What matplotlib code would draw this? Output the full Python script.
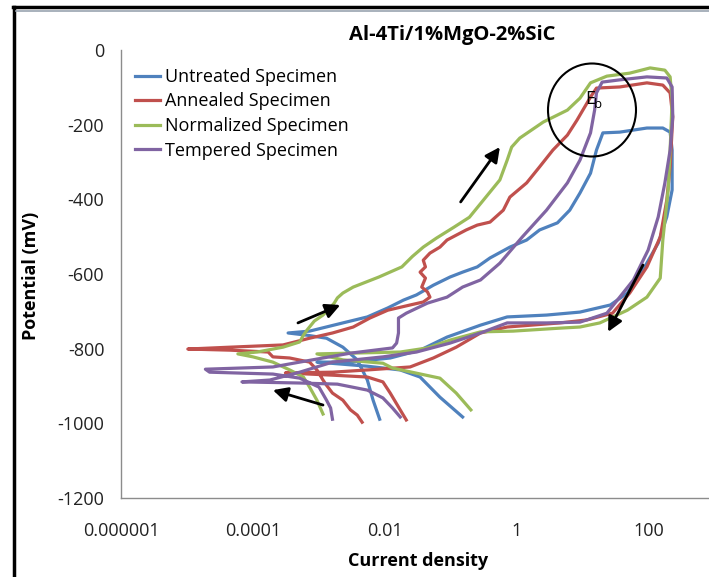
import matplotlib.pyplot as plt
from matplotlib.patches import Ellipse
from matplotlib.lines import Line2D
from matplotlib.ticker import NullLocator

plt.rcParams['font.family'] = ['Open Sans', 'DejaVu Sans']
plt.rcParams['axes.unicode_minus'] = False

# current density (log axis) and potential (mV)
untreated_i = [8.3e-3, 6.6e-3, 5.4e-3, 3.8e-3, 2.3e-3, 1.3e-3, 6.6e-4, 3.4e-4, 7.2e-4, 2.3e-3,
               5.4e-3, 0.011, 0.019, 0.030, 0.054, 0.097, 0.15, 0.25, 0.39, 0.78,
               1.4, 2.2, 4.1, 6.3, 9.0, 13, 16, 20, 36, 93,
               162, 209, 224, 224, 186, 138, 81, 47, 26, 9.0,
               2.8, 0.71, 0.28, 0.087, 0.034, 0.012, 3.0e-3, 9.3e-4, 5.4e-3, 0.017,
               0.034, 0.068, 0.15]
untreated_e = [-989, -938, -884, -830, -796, -772, -764, -758, -753, -731,
               -715, -691, -670, -656, -630, -608, -595, -581, -557, -528,
               -509, -482, -463, -429, -383, -330, -268, -222, -220, -209,
               -209, -220, -268, -375, -447, -517, -589, -651, -683, -702,
               -710, -715, -737, -769, -804, -825, -836, -836, -847, -857,
               -876, -930, -983]

annealed_i = [4.5e-3, 3.8e-3, 3.0e-3, 2.3e-3, 1.6e-3, 1.3e-3, 1.15e-3, 9.3e-4, 7.2e-4, 3.6e-4,
              2.0e-4, 1.7e-4, 4.5e-5, 1.03e-5, 4.5e-5, 2.85e-4, 7.2e-4, 1.6e-3, 3.3e-3, 5.9e-3,
              0.011, 0.024, 0.038, 0.048, 0.044, 0.036, 0.041, 0.034, 0.041, 0.038,
              0.048, 0.068, 0.087, 0.12, 0.17, 0.25, 0.39, 0.62, 0.78, 1.4,
              2.2, 3.5, 5.8, 8.1, 13, 16, 36, 93, 162, 209,
              229, 209, 186, 148, 93, 51, 28, 11.5, 4.5, 0.71,
              0.28, 0.12, 0.054, 0.024, 5.4e-3, 1.6e-3, 3.1e-4, 1.6e-3, 5.4e-3, 9.3e-3,
              0.012, 0.017, 0.021]
annealed_e = [-997, -978, -964, -938, -919, -898, -884, -857, -836, -825,
              -822, -809, -804, -801, -796, -790, -772, -758, -742, -718,
              -697, -683, -675, -662, -648, -635, -611, -595, -581, -563,
              -544, -528, -509, -496, -482, -469, -461, -429, -394, -356,
              -313, -268, -228, -188, -126, -102, -99, -88, -94, -115,
              -179, -313, -402, -501, -581, -651, -705, -723, -731, -742,
              -758, -796, -825, -849, -857, -863, -865, -871, -876, -889,
              -919, -964, -991]

normalized_i = [1.15e-3, 9.3e-4, 7.2e-4, 5.8e-4, 3.6e-4, 2.0e-4, 1.0e-4, 5.9e-5, 1.15e-4, 2.85e-4,
                5.1e-4, 5.8e-4, 6.6e-4, 8.5e-4, 1.15e-3, 1.5e-3, 1.7e-3, 1.9e-3, 2.3e-3, 3.3e-3,
                8.1e-3, 0.018, 0.026, 0.038, 0.060, 0.11, 0.19, 0.31, 0.55, 0.71,
                0.83, 1.1, 2.5, 5.8, 9.0, 13, 23, 51, 104, 174,
                209, 224, 209, 195, 162, 148, 93, 47, 18, 9.0,
                4.5, 0.87, 0.28, 0.097, 0.044, 0.017, 3.0e-3, 9.3e-4, 2.3e-3, 9.3e-3,
                0.013, 0.068, 0.12, 0.20]
normalized_e = [-975, -938, -903, -876, -857, -836, -822, -814, -809, -796,
                -782, -764, -750, -726, -710, -689, -678, -664, -651, -635,
                -608, -581, -553, -528, -504, -475, -448, -402, -348, -295,
                -260, -236, -193, -161, -129, -88, -70, -62, -48, -54,
                -72, -134, -268, -375, -509, -611, -662, -697, -731, -742,
                -745, -753, -755, -777, -798, -809, -812, -814, -830, -839,
                -852, -879, -919, -964]

tempered_i = [1.6e-3, 1.5e-3, 1.3e-3, 1.0e-3, 5.1e-4, 2.0e-4, 2.2e-5, 1.9e-5, 2.0e-4, 5.1e-4,
              3.0e-3, 0.013, 0.015, 0.016, 0.016, 0.021, 0.044, 0.087, 0.15, 0.28,
              0.55, 1.2, 2.8, 5.8, 9.0, 13, 15, 16, 19.5, 36,
              93, 186, 224, 229, 209, 174, 138, 97, 58, 36,
              23, 9.0, 2.8, 0.71, 0.28, 0.097, 0.030, 9.3e-3, 1.6e-3, 5.1e-4,
              1.8e-4, 6.8e-5, 5.1e-4, 1.9e-3, 5.4e-3, 9.3e-3, 0.013, 0.017]
tempered_e = [-989, -959, -938, -903, -879, -868, -863, -855, -849, -836,
              -812, -798, -785, -758, -718, -705, -678, -662, -635, -616,
              -571, -501, -429, -356, -295, -222, -161, -115, -86, -80,
              -72, -75, -99, -179, -268, -356, -447, -536, -616, -662,
              -705, -729, -731, -731, -758, -785, -809, -822, -836, -863,
              -884, -889, -892, -895, -911, -932, -959, -983]

series = [
    ('Untreated Specimen', untreated_i, untreated_e, '#4F81BD'),
    ('Annealed Specimen', annealed_i, annealed_e, '#C0504D'),
    ('Normalized Specimen', normalized_i, normalized_e, '#9BBB59'),
    ('Tempered Specimen', tempered_i, tempered_e, '#8064A2'),
]

x_ticks = [1e-6, 1e-4, 1e-2, 1, 100]
x_labels = ['0.000001', '0.0001', '0.01', '1', '100']

# arrows: (tail, head) in data units
arrows = [
    ((0.14, -407), (0.55, -260)),
    ((4.8e-4, -731), (2.1e-3, -683)),
    ((1.15e-3, -951), (2.0e-4, -911)),
    ((81, -576), (24, -755)),
]

W, H = 709, 577
fig = plt.figure(figsize=(W / 100, H / 100), dpi=100)
ax = fig.add_axes([121 / W, 1 - 498 / H, 660 / W, 448 / H])

for lab, i, e, c in series:
    ax.plot(i, e, color=c, lw=2.3, label=lab, solid_joinstyle='round')

ax.set_xscale('log')
ax.set_xlim(1e-6, 1e4)
ax.set_ylim(-1200, 0)
ax.set_xticks(x_ticks)
ax.set_xticklabels(x_labels)
ax.xaxis.set_minor_locator(NullLocator())
ax.set_yticks(range(-1200, 1, 200))
ax.tick_params(length=0, labelsize=13, colors='#222222')
ax.tick_params(axis='y', pad=12)
ax.tick_params(axis='x', pad=17)
for s in ['top', 'right']:
    ax.spines[s].set_visible(False)
for s in ['left', 'bottom']:
    ax.spines[s].set_color('#8c8c8c')
    ax.spines[s].set_linewidth(1.0)

for tail, head in arrows:
    ax.annotate('', xy=head, xytext=tail,
                arrowprops=dict(arrowstyle='-|>', color='black', lw=2,
                                mutation_scale=22, shrinkA=0, shrinkB=0))

fig.add_artist(Ellipse((592 / W, 1 - 110 / H), 88 / W, 93 / H, transform=fig.transFigure,
                       fill=False, ec='black', lw=1.5))
fig.text(590 / W, 1 - 99 / H, 'E', fontsize=13, ha='center', va='center')
fig.text(598 / W, 1 - 104 / H, 'b', fontsize=9.5, ha='center', va='center')

ax.legend(loc='upper left', bbox_to_anchor=(135 / W, 1 - 68 / H), bbox_transform=fig.transFigure,
          frameon=False, fontsize=13, handlelength=1.4, handletextpad=0.25,
          labelspacing=0.36, borderpad=0, borderaxespad=0)

fig.text(452 / W, 1 - 35 / H, 'Al-4Ti/1%MgO-2%SiC', fontsize=14.5, fontweight='bold',
         ha='center', va='center')
fig.text(31 / W, 1 - 276 / H, 'Potential (mV)', fontsize=13, fontweight='bold',
         rotation=90, ha='center', va='center')
fig.text(418 / W, 1 - 561 / H, 'Current density', fontsize=13, fontweight='bold',
         ha='center', va='center')

# outer frame of the original picture
fig.add_artist(Line2D([13 / W, 1], [1 - 7 / H, 1 - 7 / H], color='black', lw=2.5,
                      transform=fig.transFigure))
fig.add_artist(Line2D([14 / W, 14 / W], [0, 1 - 7 / H], color='black', lw=2.5,
                      transform=fig.transFigure))
fig.add_artist(Line2D([16 / W, 1], [1 - 11 / H, 1 - 11 / H], color='#9aa4b0', lw=1.2,
                      transform=fig.transFigure))

fig.savefig('out.png', dpi=100)
